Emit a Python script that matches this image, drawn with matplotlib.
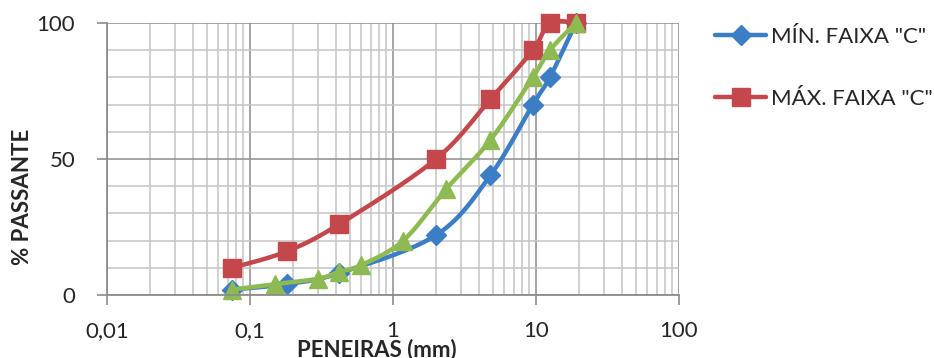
import numpy as np
import matplotlib
matplotlib.use("Agg")
import matplotlib.pyplot as plt
from matplotlib.ticker import LogLocator, FixedLocator, FuncFormatter, NullFormatter

plt.rcParams['font.family'] = ['Lato', 'DejaVu Sans']

# Sieve openings (mm) and percent passing
sieves_min = [0.075, 0.18, 0.42, 2.0, 4.8, 9.5, 12.5, 19.0]
passing_min = [2, 4, 8, 22, 44, 70, 80, 100]

sieves_max = [0.075, 0.18, 0.42, 2.0, 4.8, 9.5, 12.5, 19.0]
passing_max = [10, 16, 26, 50, 72, 90, 100, 100]

sieves_mix = [0.075, 0.15, 0.3, 0.42, 0.6, 1.18, 2.36, 4.8, 9.5, 12.5, 19.0]
passing_mix = [2, 4, 6, 8.5, 11, 20, 39, 57, 80, 90, 100]

labels = ['MÍN. FAIXA "C"', 'MÁX. FAIXA "C"']
x_ticks = [0.01, 0.1, 1, 10, 100]
x_tick_labels = ['0,01', '0,1', '1', '10', '100']
y_ticks = [0, 50, 100]

BLUE = '#3C7EC5'
RED = '#C4484B'
GREEN = '#8DBB52'


def smooth(xs, ys, n=30):
    """Catmull-Rom curve through the points, built in log-x space."""
    lx = np.log10(np.asarray(xs, float))
    y = np.asarray(ys, float)
    P = np.column_stack([lx, y])
    P = np.vstack([P[0], P, P[-1]])
    out = []
    for i in range(1, len(P) - 2):
        p0, p1, p2, p3 = P[i - 1], P[i], P[i + 1], P[i + 2]
        b1 = p1 + (p2 - p0) / 6.0
        b2 = p2 - (p3 - p1) / 6.0
        t = np.linspace(0, 1, n)[:, None]
        seg = ((1 - t) ** 3) * p1 + 3 * ((1 - t) ** 2) * t * b1 + 3 * (1 - t) * t ** 2 * b2 + t ** 3 * p2
        out.append(seg if i == 1 else seg[1:])
    c = np.vstack(out)
    return 10 ** c[:, 0], c[:, 1]


fig = plt.figure(figsize=(9.34, 3.58), dpi=100)
ax = fig.add_axes([107 / 934, 1 - 295 / 358, (679 - 107) / 934, (295 - 23) / 358])

ax.set_xscale('log')
ax.set_xlim(0.01, 100)
ax.set_ylim(0, 100)

ax.xaxis.set_major_locator(FixedLocator(x_ticks))
ax.xaxis.set_major_formatter(FuncFormatter(lambda v, p: x_tick_labels[x_ticks.index(v)] if v in x_ticks else ''))
ax.xaxis.set_minor_locator(LogLocator(base=10, subs=np.arange(2, 10)))
ax.xaxis.set_minor_formatter(NullFormatter())
ax.yaxis.set_major_locator(FixedLocator(y_ticks))
ax.yaxis.set_minor_locator(FixedLocator([10, 20, 30, 40, 60, 70, 80, 90]))

ax.grid(which='major', color='#8C8C8C', linewidth=1.1)
ax.grid(which='minor', color='#C3C3C3', linewidth=1.1)
ax.set_axisbelow(True)

for s in ['top', 'right']:
    ax.spines[s].set_visible(False)
for s in ['left', 'bottom']:
    ax.spines[s].set_color('#8C8C8C')
    ax.spines[s].set_linewidth(1.3)

ax.tick_params(axis='both', which='major', length=7, width=1.2, color='#8C8C8C',
               labelsize=16, labelcolor='#262626')
ax.tick_params(axis='both', which='minor', length=0)
ax.tick_params(axis='x', which='major', pad=12)
ax.tick_params(axis='y', which='major', pad=16)

lw = 3.2
series = [
    (sieves_min, passing_min, BLUE, 'D', 10.5, labels[0]),
    (sieves_max, passing_max, RED, 's', 12.5, labels[1]),
    (sieves_mix, passing_mix, GREEN, '^', 12.5, None),
]
handles = []
for xs, ys, col, mk, ms, lab in series:
    sx, sy = smooth(xs, ys)
    ax.plot(sx, sy, color=col, linewidth=lw, solid_capstyle='round', clip_on=False)
    ax.plot(xs, ys, linestyle='none', marker=mk, markersize=ms, color=col,
            markeredgecolor=col, clip_on=False)
    if lab:
        h, = ax.plot([], [], color=col, linewidth=lw, marker=mk, markersize=ms,
                     markeredgecolor=col, solid_capstyle='round', label=lab)
        handles.append(h)

ax.set_ylabel('% PASSANTE', fontsize=16, fontweight='bold', color='#262626')
ax.yaxis.set_label_coords(-0.13, 0.36)
ax.set_xlabel('PENEIRAS (mm)', fontsize=16, fontweight='bold', color='#262626')
ax.xaxis.set_label_coords(0.472, -0.16)

fig.legend(handles=handles, loc='upper left', bbox_to_anchor=(695 / 934, 1 - 7 / 358),
           frameon=False, fontsize=16, handlelength=2.3, handletextpad=0.2,
           labelspacing=1.9, labelcolor='#262626')

fig.savefig('out.png', dpi=100)
